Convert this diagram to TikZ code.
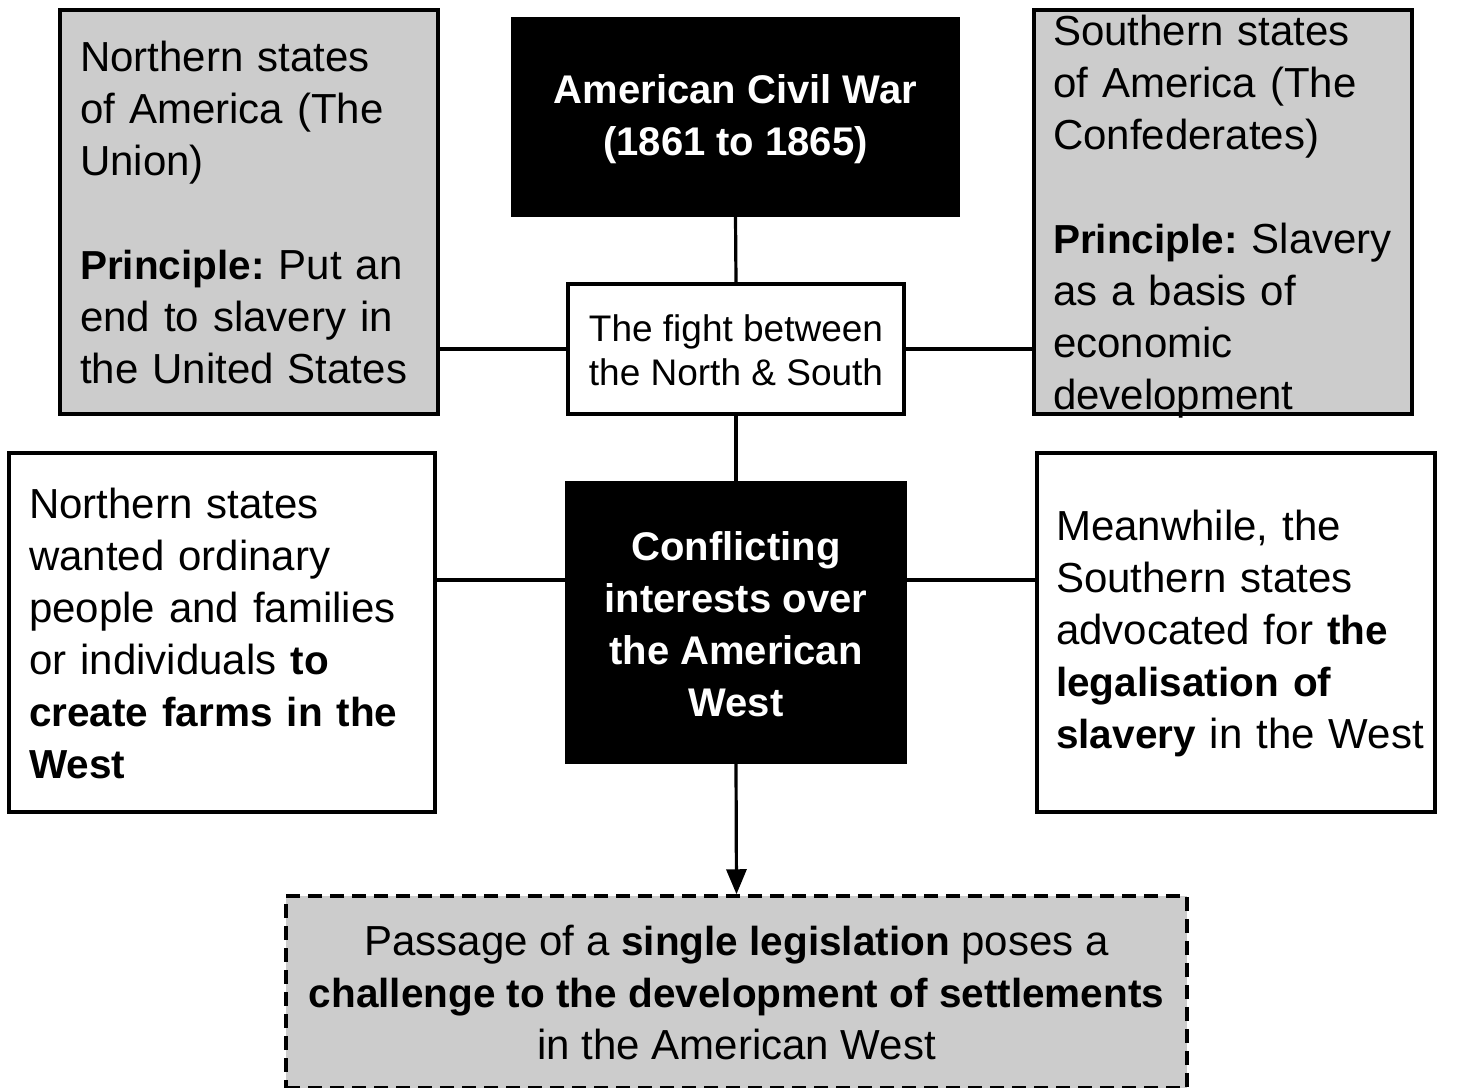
\documentclass[tikz,border=0pt]{standalone}
\usepackage{fontspec}
\setmainfont{Liberation Sans}
\usetikzlibrary{arrows.meta}
\definecolor{boxgray}{HTML}{CCCCCC}
\frenchspacing
\newcommand\bodyfont{\fontsize{42}{52}\selectfont\hyphenpenalty=10000\exhyphenpenalty=10000}
\newcommand\smallfont{\fontsize{37}{44}\selectfont}
\newcommand\boldfont{\fontsize{40}{52}\selectfont\bfseries}
\newcommand\bt[1]{{\fontsize{40.5}{52}\selectfont\bfseries #1}}
\begin{document}
\begin{tikzpicture}[x=1pt,y=-1pt,
  boxbase/.style={draw=black, line width=3.5pt, inner sep=0pt},
  graybox/.style={boxbase, fill=boxgray},
  whitebox/.style={boxbase, fill=white},
  blackbox/.style={boxbase, fill=black},
  dashbox/.style={boxbase, fill=boxgray, dash pattern=on 14pt off 8pt},
  ltxt/.style={inner sep=0pt, font=\bodyfont, align=left, anchor=west, text width=600pt},
  ctxt/.style={inner sep=0pt, font=\bodyfont, align=center},
  wtxt/.style={inner sep=0pt, font=\boldfont, align=center, text=white},
  conn/.style={line width=3.2pt, draw=black}
]
\useasboundingbox (0,0) rectangle (1472,1087);

% boxes
\node[graybox, minimum width=378pt, minimum height=404pt] (nl) at (249,212) {};
\node[blackbox, minimum width=445pt, minimum height=196pt] (acw) at (735.5,117) {};
\node[graybox, minimum width=378pt, minimum height=404pt] (sr) at (1223,212) {};
\node[whitebox, minimum width=336pt, minimum height=130pt] (fight) at (736,349) {};
\node[whitebox, minimum width=426pt, minimum height=359pt] (nw) at (222,632.5) {};
\node[blackbox, minimum width=338pt, minimum height=279pt] (cw) at (736,622.5) {};
\node[whitebox, minimum width=398pt, minimum height=359pt] (sw) at (1236,632.5) {};
\node[dashbox, minimum width=901pt, minimum height=192pt] (leg) at (736.5,992) {};

% texts
\node[ltxt] (nlt) at (80,212) {Northern states\\of America (The\\Union)\\[52pt]\bt{Principle:} Put an\\end to slavery in\\the United States};
\node[wtxt] (acwt) at (735.5,119) {American Civil War\\(1861 to 1865)};
\node[ltxt] (srt) at (1053,216.5) {Southern states\\of America (The\\Confederates)\\[52pt]\bt{Principle:} Slavery\\as a basis of\\economic\\development};
\node[inner sep=0pt, font=\smallfont, align=center] (fightt) at (736,350) {The fight between\\the North \& South};
\node[ltxt] (nwt) at (29,633) {Northern states\\wanted ordinary\\people and families\\or individuals \bt{to}\\\bt{create farms in the}\\\bt{West}};
\node[wtxt] (cwt) at (736,624) {Conflicting\\interests over\\the American\\West};
\node[ltxt] (swt) at (1056,633) {Meanwhile, the\\Southern states\\advocated for \bt{the}\\\bt{legalisation of}\\\bt{slavery} in the West};
\node[ctxt] (legt) at (736.5,992) {Passage of a \bt{single legislation} poses a\\\bt{challenge to the development of settlements}\\in the American West};

% connectors
\draw[conn] (acw.south) -- (fight.north);
\draw[conn] (fight.south) -- (cw.north);
\draw[conn] (fight.west) -- (fight.west -| nl.east);
\draw[conn] (fight.east) -- (fight.east -| sr.west);
\draw[conn] ([yshift=42.5pt]cw.west) -- ([yshift=42.5pt]cw.west -| nw.east);
\draw[conn] ([yshift=42.5pt]cw.east) -- ([yshift=42.5pt]cw.east -| sw.west);
\draw[conn, -{Triangle[length=25pt,width=20pt]}] (cw.south) -- (leg.north);
\end{tikzpicture}
\end{document}
